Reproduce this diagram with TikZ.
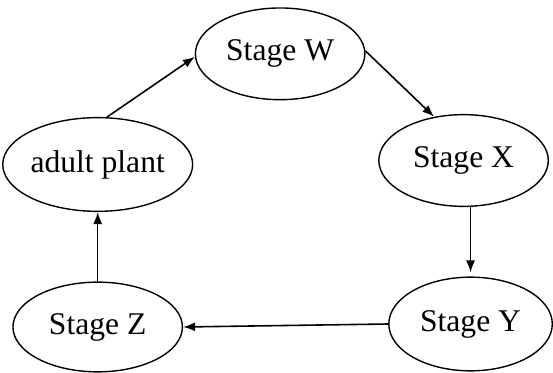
\documentclass[tikz,border=0pt]{standalone}
\usepackage{fontspec}
\setmainfont{Liberation Serif}
\usetikzlibrary{positioning,shapes.geometric,arrows.meta}
\begin{document}
\begin{tikzpicture}[
    stage/.style={ellipse, draw, line width=1.4pt, inner sep=0pt,
      minimum width=170pt, minimum height=92pt,
      font=\fontsize{31.7pt}{38pt}\selectfont},
    >={Latex[length=12pt,width=9pt]},
    on grid]
   \node[stage] (W) {Stage W};
   \node[stage, minimum width=168pt, minimum height=94pt] (A) [below left=111pt and 183pt of W] {adult plant};
   \node[stage] (X) [below right=107pt and 184pt of W] {Stage X};
   \node[stage, minimum width=164pt, minimum height=94pt] (Y) [below right=164pt and 7pt of X] {Stage Y};
   \node[stage, minimum height=90pt] (Z) [below=163pt of A] {Stage Z};
   \useasboundingbox ([shift={(-281pt,54pt)}]W.center) rectangle ++(553pt,-373pt);
   \path[->, line width=1.6pt]
     (A.79) edge (W.182)
     (W.2)  edge (X.124)
     (Y.north |- X.south) edge[shorten >=4pt] (Y.north)
     (Y.west) edge (Z.east)
     (Z) edge (A);
\end{tikzpicture}
\end{document}
